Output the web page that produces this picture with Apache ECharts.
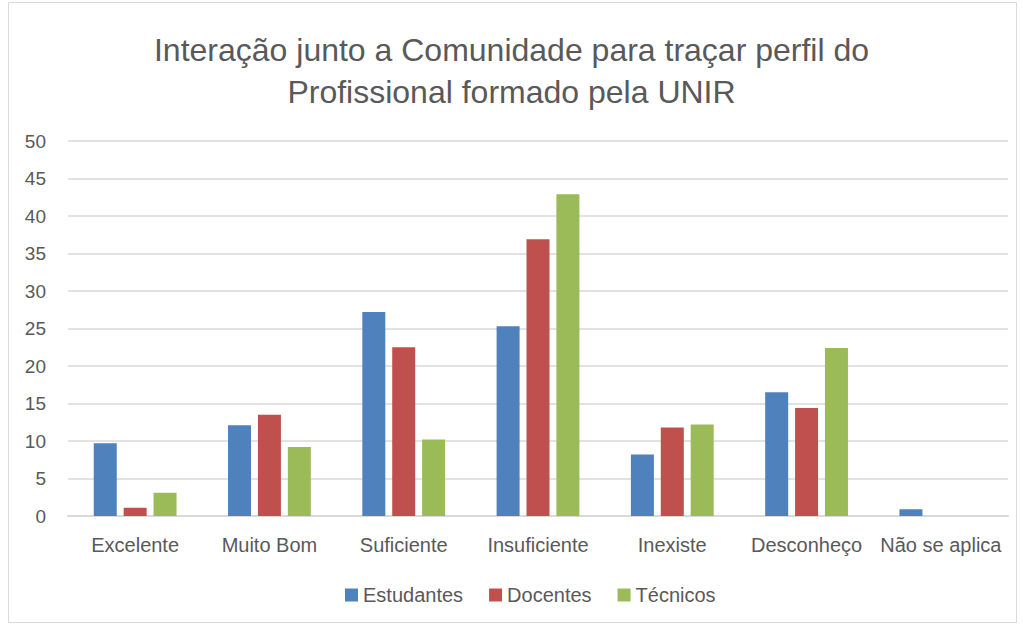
<!DOCTYPE html>
<html>
<head>
<meta charset="utf-8">
<script src="https://cdn.jsdelivr.net/npm/echarts@6/dist/echarts.min.js"></script>
<style>
  html, body { margin: 0; padding: 0; background: #fff; }
  #chart { width: 1023px; height: 628px; }
</style>
</head>
<body>
<div id="chart"></div>
<script>
var categories = ['Excelente', 'Muito Bom', 'Suficiente', 'Insuficiente', 'Inexiste', 'Desconheço', 'Não se aplica'];
var estudantes = [9.7, 12.1, 27.2, 25.3, 8.2, 16.5, 0.9];
var docentes = [1.1, 13.5, 22.5, 36.9, 11.8, 14.4, 0];
var tecnicos = [3.1, 9.2, 10.2, 42.9, 12.2, 22.4, 0];

var font = '"Liberation Sans", "Open Sans", sans-serif';
var textColor = '#595959';

var chart = echarts.init(document.getElementById('chart'), null, { renderer: 'svg' });
chart.setOption({
  animation: false,
  textStyle: { fontFamily: font },
  title: {
    text: 'Interação junto a Comunidade para traçar perfil do\nProfissional formado pela UNIR',
    left: 'center',
    top: 24,
    textStyle: { fontSize: 32, fontWeight: 'normal', color: textColor, lineHeight: 42, fontFamily: font }
  },
  graphic: [{
    type: 'rect',
    shape: { x: 8.5, y: 2.5, width: 1008, height: 620 },
    style: { fill: 'none', stroke: '#d9d9d9', lineWidth: 1 }
  }],
  legend: {
    bottom: 18,
    left: 340,
    itemWidth: 13,
    itemHeight: 13,
    itemGap: 26,
    icon: 'rect',
    textStyle: { fontSize: 20, color: textColor, fontFamily: font },
    data: ['Estudantes', 'Docentes', 'Técnicos']
  },
  grid: { left: 68, right: 15, top: 141, bottom: 112 },
  xAxis: {
    type: 'category',
    data: categories,
    axisLine: { lineStyle: { color: '#d9d9d9', width: 2 } },
    axisTick: { show: false },
    axisLabel: { fontSize: 20, color: textColor, margin: 19, interval: 0 }
  },
  yAxis: {
    type: 'value',
    min: 0,
    max: 50,
    interval: 5,
    axisLine: { show: false },
    axisTick: { show: false },
    axisLabel: { fontSize: 19, color: textColor, margin: 22 },
    splitLine: { lineStyle: { color: '#d9d9d9', width: 1.5 } }
  },
  series: [
    { name: 'Estudantes', type: 'bar', data: estudantes, barWidth: 23, barGap: '30%',
      itemStyle: { color: '#4f81bd' } },
    { name: 'Docentes', type: 'bar', data: docentes, barWidth: 23, barGap: '30%',
      itemStyle: { color: '#c0504d' } },
    { name: 'Técnicos', type: 'bar', data: tecnicos, barWidth: 23, barGap: '30%',
      itemStyle: { color: '#9bbb59' } }
  ]
});
window.addEventListener('resize', function() { chart.resize(); });
</script>
</body>
</html>
